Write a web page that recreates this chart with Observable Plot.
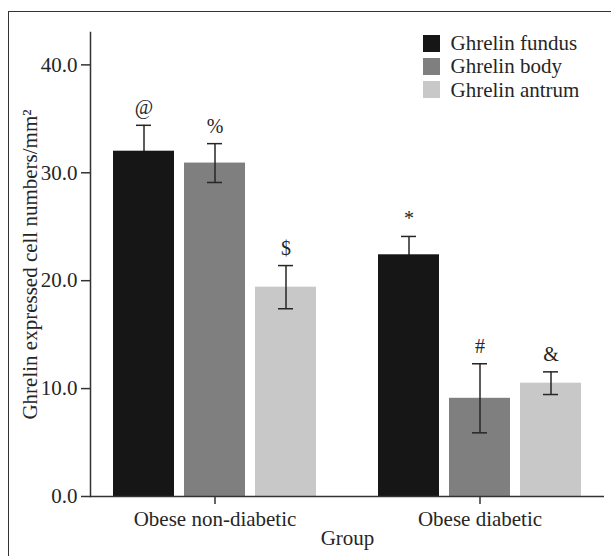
<!DOCTYPE html>
<html><head><meta charset="utf-8">
<script src="https://cdn.jsdelivr.net/npm/d3@7"></script>
<script src="https://cdn.jsdelivr.net/npm/@observablehq/plot@0.6"></script>
<style>
body{margin:0;background:#fff;}
#wrap{position:relative;width:611px;height:556px;overflow:hidden;background:#fff;}
#border{position:absolute;left:8px;top:11px;width:800px;height:800px;border-top:1.5px solid #333;border-left:1.5px solid #333;}
#chart{position:absolute;left:0;top:0;}
#legend{position:absolute;left:423px;top:32px;}
</style></head><body>
<div id="wrap"><div id="border"></div><div id="chart"></div><div id="legend"></div></div>
<script>
const groups = ["Obese non-diabetic", "Obese diabetic"];
const series = ["Ghrelin fundus", "Ghrelin body", "Ghrelin antrum"];
const colors = ["#161616", "#7f7f7f", "#c8c8c8"];
const fundusMean = [32.0, 22.4];
const fundusErr  = [2.4, 1.7];
const bodyMean   = [30.9, 9.1];
const bodyErr    = [1.8, 3.2];
const antrumMean = [19.4, 10.5];
const antrumErr  = [2.0, 1.05];
const fundusSig  = ["@", "*"];
const bodySig    = ["%", "#"];
const antrumSig  = ["$", "&"];
const yTicks = [0, 10, 20, 30, 40];

const means = [fundusMean, bodyMean, antrumMean];
const errs = [fundusErr, bodyErr, antrumErr];
const sigs = [fundusSig, bodySig, antrumSig];
const rows = [];
series.forEach((s, i) => groups.forEach((g, j) => rows.push({
  group: g, series: s, value: means[i][j], err: errs[i][j], sig: sigs[i][j]
})));

const font = "Liberation Serif, Times New Roman, serif";
const ink = "#262626";
const step = 71;
const errMarks = (data, dx) => [
  Plot.ruleX(data, {x: "group", y1: d => d.value - d.err, y2: d => d.value + d.err, dx, stroke: ink, strokeWidth: 1.5}),
  Plot.tickY(data, {x: "group", y: d => d.value + d.err, dx, stroke: ink, strokeWidth: 1.5, insetLeft: 23, insetRight: 23}),
  Plot.tickY(data, {x: "group", y: d => d.value - d.err, dx, stroke: ink, strokeWidth: 1.5, insetLeft: 23, insetRight: 23})
];
const marks = [];
series.forEach((s, i) => {
  const data = rows.filter(d => d.series === s);
  const dx = (i - 1) * step;
  if (i === 0) marks.push(...errMarks(data, dx)); // hidden lower half behind the dark bar
  marks.push(Plot.barY(data, {x: "group", y: "value", fill: "series", dx}));
});
series.forEach((s, i) => {
  const data = rows.filter(d => d.series === s);
  const dx = (i - 1) * step;
  if (i > 0) marks.push(...errMarks(data, dx));
  marks.push(Plot.text(data, {x: "group", y: d => d.value + d.err, text: "sig", dx, dy: -11, lineAnchor: "bottom", fontSize: 20, fontFamily: font, fill: ink}));
});
marks.push(Plot.ruleY([0], {stroke: "#333", strokeWidth: 1.5}));
marks.push(Plot.frame({anchor: "left", stroke: "#333", strokeWidth: 1.5}));
marks.push(Plot.axisY({ticks: yTicks, tickFormat: d => d.toFixed(1), tickSize: 9, tickPadding: 4, fontSize: 21,
  label: "Ghrelin expressed cell numbers/mm²", labelAnchor: "center", labelOffset: 68, labelArrow: "none", stroke: "#333", strokeWidth: 1.5}));
marks.push(Plot.axisX({tickSize: 8, tickPadding: 7, fontSize: 21, label: "Group", labelAnchor: "center", labelOffset: 48, labelArrow: "none", stroke: "#333", strokeWidth: 1.5}));

const plot = Plot.plot({
  width: 611, height: 556,
  marginLeft: 90, marginRight: 7, marginTop: 32, marginBottom: 60,
  style: {fontFamily: font, fontSize: "21px", color: ink, background: "transparent"},
  x: {domain: groups, range: [184, 510], paddingInner: 0.77, paddingOuter: 0},
  y: {domain: [0, 43]},
  color: {domain: series, range: colors},
  marks
});
document.getElementById("chart").appendChild(plot);
const leg = plot.legend("color", {legend: "swatches", columns: 1, swatchSize: 17,
  style: {fontFamily: font, fontSize: "21px", lineHeight: "22.3px", color: ink}});
document.getElementById("legend").appendChild(leg);
</script>
</body></html>
